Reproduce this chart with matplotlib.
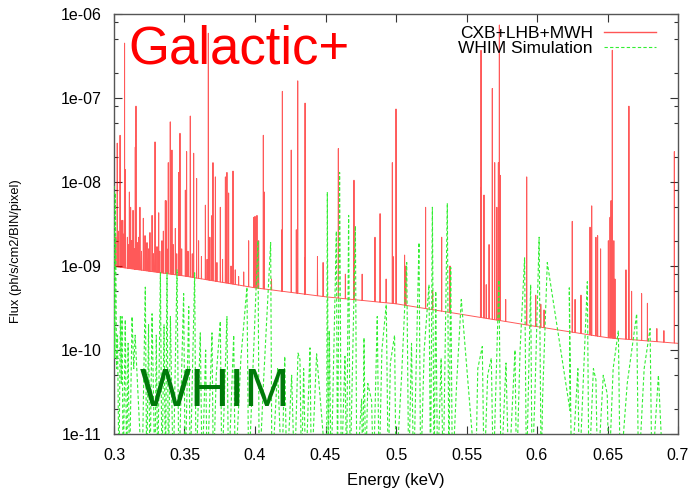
import numpy as np
import matplotlib
matplotlib.use("Agg")
import matplotlib.pyplot as plt
from matplotlib.ticker import LogLocator, FixedLocator, NullFormatter

plt.rcParams['font.family'] = ['Liberation Sans', 'DejaVu Sans']

# ---------------- data ----------------
# continuum of CXB+LHB+MWH (keV, flux)
cont_E = [0.30, 0.35, 0.40, 0.45, 0.50, 0.55, 0.60, 0.65, 0.70]
cont_F = [9.9e-10, 7.6e-10, 5.5e-10, 4.3e-10, 3.55e-10, 2.6e-10, 1.9e-10, 1.4e-10, 1.2e-10]

# emission lines of CXB+LHB+MWH (keV, peak flux)
line_E = [0.3005, 0.3012, 0.3023, 0.3030, 0.3043, 0.3050, 0.3055, 0.3062, 0.3068, 0.3075,
          0.3081, 0.3095, 0.3100, 0.3109, 0.3118, 0.3125, 0.3135, 0.3145, 0.3151, 0.3156,
          0.3165, 0.3175, 0.3184, 0.3195, 0.3208, 0.3220, 0.3234, 0.3245, 0.3255, 0.3270,
          0.3280, 0.3291, 0.3305, 0.3317, 0.3325, 0.3340, 0.3350, 0.3364, 0.3369, 0.3375,
          0.3385, 0.3399, 0.3411, 0.3420, 0.3435, 0.3445, 0.3459, 0.3468, 0.3480, 0.3506,
          0.3515, 0.3525, 0.3541, 0.3555, 0.3565, 0.3586, 0.3600, 0.3620, 0.3648, 0.3660,
          0.3669, 0.3680, 0.3695, 0.3702, 0.3719, 0.3730, 0.3754, 0.3770, 0.3790, 0.3801,
          0.3813, 0.3830, 0.3844, 0.3860, 0.3884, 0.3920, 0.3955, 0.3991, 0.4000, 0.4014,
          0.4026, 0.4059, 0.4066, 0.4117, 0.4191, 0.4194, 0.4257, 0.4293, 0.4303, 0.4352,
          0.4355, 0.4443, 0.4483, 0.4591, 0.4641, 0.4702, 0.4760, 0.4851, 0.4887, 0.4930,
          0.4974, 0.4979, 0.5000, 0.5061, 0.5070, 0.5210, 0.5260, 0.5324, 0.5383, 0.5600,
          0.5603, 0.5624, 0.5640, 0.5660, 0.5683, 0.5700, 0.5715, 0.5726, 0.5733, 0.5740,
          0.5778, 0.5927, 0.5991, 0.6027, 0.6050, 0.6250, 0.6270, 0.6312, 0.6376, 0.6388,
          0.6418, 0.6430, 0.6451, 0.6506, 0.6518, 0.6525, 0.6534, 0.6545, 0.6553, 0.6631,
          0.6652, 0.6671, 0.6742, 0.6783, 0.6850, 0.6900, 0.6974]
line_F = [1.8e-9, 2.2e-9, 2.9e-8, 2.6e-9, 3.6e-8, 3.5e-9, 2.8e-9, 3.5e-9, 2.4e-9, 4.5e-7,
          1.4e-8, 2.2e-9, 1.8e-9, 7.6e-9, 5e-9, 2e-9, 4.6e-9, 1.6e-9, 2.6e-8, 8e-8,
          1.9e-9, 2.2e-9, 5e-9, 1.5e-9, 3.7e-9, 2.3e-9, 1.9e-9, 1.6e-9, 2.5e-9, 4e-9,
          1.4e-9, 3e-8, 1.7e-9, 4.3e-9, 1.5e-9, 2e-9, 2.6e-9, 6e-9, 6e-9, 1.6e-9,
          1.7e-8, 5.2e-8, 2.4e-8, 1.8e-9, 2.8e-9, 1.4e-9, 1.3e-8, 3.8e-8, 1.6e-9, 8e-9,
          2.3e-8, 1.5e-9, 6.1e-8, 1.4e-9, 2.2e-8, 1.1e-8, 2e-9, 1.3e-9, 5.3e-9, 1.2e-9,
          5.9e-7, 2.2e-9, 4e-9, 1.7e-8, 1.15e-8, 1.1e-9, 5e-9, 1.2e-9, 1.15e-8, 1.3e-8,
          7.4e-9, 1e-9, 1.35e-8, 9e-10, 7.5e-10, 8.5e-10, 2e-9, 3.8e-9, 3.9e-9, 4e-9,
          2e-9, 3.6e-8, 7.6e-9, 7e-10, 2.7e-9, 1.2e-7, 2.4e-8, 2.7e-9, 1.6e-7, 1.25e-9,
          8.7e-8, 1.3e-9, 1.1e-9, 2.5e-8, 8e-10, 1.05e-8, 8e-10, 2.2e-9, 4.2e-9, 7e-10,
          1.7e-8, 1.3e-9, 7.4e-8, 1.35e-9, 1e-9, 5e-9, 5e-10, 2.2e-9, 1e-9, 8.5e-9,
          3.7e-7, 7e-9, 6e-10, 1.8e-9, 1.3e-7, 1.7e-8, 5e-9, 1.7e-8, 7.4e-7, 1.2e-8,
          4e-10, 1.15e-8, 4.5e-10, 3.5e-10, 3e-10, 3.4e-9, 4e-10, 4.5e-10, 2.9e-9, 5.2e-9,
          2.2e-9, 2.3e-9, 1.6e-9, 2e-9, 3.8e-9, 6e-9, 3.7e-7, 2e-9, 7e-10, 9e-10,
          8e-8, 5e-10, 4.7e-10, 3.6e-10, 1.8e-10, 1.7e-10, 2.3e-8]

# WHIM simulation (keV, flux); values below the axis floor are clipped by the axes
whim_E = [0.3000, 0.3005, 0.3010, 0.3018, 0.3025, 0.3035, 0.3045, 0.3052, 0.3057, 0.3065,
          0.3080, 0.3090, 0.3100, 0.3110, 0.3128, 0.3140, 0.3150, 0.3199, 0.3222, 0.3232,
          0.3245, 0.3255, 0.3270, 0.3290, 0.3300, 0.3310, 0.3329, 0.3340, 0.3355, 0.3365,
          0.3376, 0.3386, 0.3400, 0.3420, 0.3447, 0.3460, 0.3494, 0.3505, 0.3530, 0.3540,
          0.3572, 0.3582, 0.3612, 0.3625, 0.3650, 0.3660, 0.3695, 0.3705, 0.3725, 0.3754,
          0.3765, 0.3801, 0.3812, 0.3849, 0.3860, 0.3900, 0.3943, 0.3955, 0.4021, 0.4030,
          0.4060, 0.4111, 0.4120, 0.4160, 0.4190, 0.4211, 0.4225, 0.4260, 0.4280, 0.4305,
          0.4319, 0.4330, 0.4345, 0.4360, 0.4390, 0.4400, 0.4437, 0.4508, 0.4513, 0.4520,
          0.4527, 0.4540, 0.4577, 0.4585, 0.4600, 0.4612, 0.4638, 0.4650, 0.4664, 0.4675,
          0.4712, 0.4722, 0.4756, 0.4765, 0.4773, 0.4785, 0.4800, 0.4827, 0.4840, 0.4867,
          0.4880, 0.4900, 0.4931, 0.4945, 0.4960, 0.4990, 0.5000, 0.5040, 0.5076, 0.5090,
          0.5110, 0.5125, 0.5163, 0.5175, 0.5200, 0.5234, 0.5245, 0.5258, 0.5270, 0.5282,
          0.5295, 0.5320, 0.5335, 0.5364, 0.5375, 0.5388, 0.5400, 0.5430, 0.5463, 0.5565,
          0.5580, 0.5612, 0.5625, 0.5650, 0.5676, 0.5690, 0.5730, 0.5745, 0.5780, 0.5800,
          0.5844, 0.5855, 0.5880, 0.5912, 0.5925, 0.5955, 0.5965, 0.5985, 0.6015, 0.6030,
          0.6040, 0.6073, 0.6234, 0.6229, 0.6245, 0.6290, 0.6300, 0.6357, 0.6368, 0.6400,
          0.6418, 0.6430, 0.6470, 0.6498, 0.6510, 0.6540, 0.6577, 0.6590, 0.6640, 0.6707,
          0.6720, 0.6760, 0.6802, 0.6815, 0.6861, 0.6895, 0.6930, 0.6960]
whim_F = [9e-9, 8e-11, 7.4e-9, 6e-11, 1.5e-10, 3e-12, 2.5e-10, 4e-11, 2.5e-10, 3e-12,
          2.3e-10, 3e-12, 1.2e-10, 3e-12, 2.5e-10, 6e-11, 1.5e-10, 3e-12, 5.6e-10, 3e-12,
          2e-10, 3e-12, 2.7e-10, 3e-12, 1.5e-10, 3e-12, 8.3e-10, 3e-12, 2e-10, 3e-12,
          8.3e-10, 3e-12, 2.5e-10, 3e-12, 9e-10, 3e-12, 4.7e-10, 3e-12, 3.3e-10, 3e-12,
          8.3e-10, 3e-12, 1.6e-10, 3e-12, 1e-10, 3e-12, 1.6e-10, 3e-12, 5e-11, 2.2e-10,
          3e-12, 2.5e-10, 3e-12, 1.5e-10, 3e-12, 8e-11, 5.6e-10, 3e-12, 2e-9, 3e-12,
          4e-11, 1.9e-9, 3e-12, 6e-11, 3e-12, 8.4e-11, 3e-12, 5e-11, 3e-12, 9.2e-11,
          7.7e-11, 3e-12, 6e-11, 3e-12, 1.06e-10, 3e-12, 9e-11, 3e-12, 7.6e-9, 3e-12,
          1.7e-10, 3e-12, 2.6e-9, 3e-12, 1.3e-8, 3e-12, 8.4e-11, 3e-12, 4e-9, 3e-12,
          3e-9, 3e-12, 2.6e-11, 3e-12, 1.4e-10, 3e-12, 4e-11, 2.5e-11, 3e-12, 2.5e-10,
          3e-12, 1e-10, 3.5e-10, 3e-12, 7e-11, 1.5e-10, 3e-12, 5e-11, 1.1e-9, 3e-12,
          1.2e-10, 3e-12, 1.9e-9, 3e-12, 1e-10, 6e-10, 3e-12, 5e-9, 3e-12, 5e-10,
          3e-12, 8e-11, 3e-12, 5.6e-9, 3e-12, 9.6e-10, 3e-12, 4e-11, 4e-10, 3e-12,
          6e-11, 1.1e-10, 3e-12, 5e-11, 8e-11, 3e-12, 6.8e-10, 3e-12, 7e-11, 3e-12,
          1e-10, 3e-12, 1e-10, 1.25e-9, 3e-12, 6e-10, 3e-12, 2.8e-11, 2.2e-9, 3e-12,
          2.8e-11, 1.1e-9, 1.9e-11, 5.5e-10, 3e-12, 6e-11, 3e-12, 6.5e-10, 3e-12, 6e-11,
          4.4e-11, 3e-12, 5e-11, 3e-11, 3e-12, 6e-11, 1.7e-10, 3e-12, 4e-11, 2.7e-10,
          3e-12, 6e-11, 1.8e-10, 3e-12, 5e-11, 3e-12, 3e-12, 3e-12]

legend_labels = ["CXB+LHB+MWH", "WHIM Simulation"]
x_ticks = [0.3, 0.35, 0.4, 0.45, 0.5, 0.55, 0.6, 0.65, 0.7]
x_tick_labels = ["0.3", "0.35", "0.4", "0.45", "0.5", "0.55", "0.6", "0.65", "0.7"]
y_ticks = [1e-11, 1e-10, 1e-9, 1e-8, 1e-7, 1e-6]
y_tick_labels = ["1e-11", "1e-10", "1e-09", "1e-08", "1e-07", "1e-06"]

# ---------------- build red spectrum polyline ----------------
log_cont = np.log10(cont_F)
half_bin = 0.00012
pts = [(e, f) for e, f in zip(cont_E, cont_F)]
for e, f in zip(line_E, line_F):
    base = 10 ** np.interp(e, cont_E, log_cont)
    pts += [(e - half_bin, base), (e, f), (e + half_bin, base)]
pts.sort(key=lambda p: p[0])
red_x = [p[0] for p in pts]
red_y = [p[1] for p in pts]

# ---------------- figure ----------------
fig = plt.figure(figsize=(6.92, 4.90), dpi=100)
ax = fig.add_axes([114 / 692, 1 - 434 / 490, 564 / 692, 420 / 490])

ax.plot(red_x, red_y, color='#ff0000', lw=0.7, alpha=0.65, label=legend_labels[0], zorder=2)
ax.plot(whim_E, whim_F, color='#33ee33', lw=0.8, dashes=(3, 2),
        label=legend_labels[1], zorder=3)

ax.set_yscale('log')
ax.set_xlim(0.3, 0.7)
ax.set_ylim(1e-11, 1e-6)

ax.xaxis.set_major_locator(FixedLocator(x_ticks))
ax.set_xticklabels(x_tick_labels)
ax.yaxis.set_major_locator(FixedLocator(y_ticks))
ax.set_yticklabels(y_tick_labels)
ax.yaxis.set_minor_locator(LogLocator(base=10, subs=(2.0, 5.0, 8.0), numticks=20))
ax.yaxis.set_minor_formatter(NullFormatter())

ax.tick_params(axis='both', which='both', direction='in', top=True, right=True,
               colors='#333333', labelcolor='black')
ax.tick_params(axis='x', which='major', length=6, width=0.8, pad=10, labelsize=11.5)
ax.tick_params(axis='y', which='major', length=6, width=0.8, pad=9, labelsize=11.5)
ax.tick_params(axis='y', which='minor', length=3, width=0.8)
for s in ax.spines.values():
    s.set_color('#555555')
    s.set_linewidth(1.0)

ax.set_xlabel("Energy (keV)", fontsize=12, labelpad=7)
ax.set_ylabel("Flux (ph/s/cm2/BIN/pixel)", fontsize=9.3)
ax.yaxis.set_label_coords((22 - 114) / 564, (434 - 251) / 420)

ax.text(0.026, 0.975, "Galactic+", transform=ax.transAxes, color='#ff0000',
        fontsize=38, ha='left', va='top')
ax.text(0.045, 0.04, "WHIM", transform=ax.transAxes, color='#007a0a',
        fontsize=39, ha='left', va='bottom')

leg = ax.legend(loc='upper right', bbox_to_anchor=((656 - 114) / 564, (434 - 26) / 420),
                frameon=False, markerfirst=False, fontsize=12.5, handlelength=3.0,
                handletextpad=0.65, labelspacing=0.0, borderpad=0, borderaxespad=0)
leg_lines = leg.get_lines()
leg_lines[0].set_color('#ff5555')
leg_lines[0].set_alpha(1.0)
leg_lines[0].set_linewidth(1.0)

fig.savefig("out.png", dpi=100)
